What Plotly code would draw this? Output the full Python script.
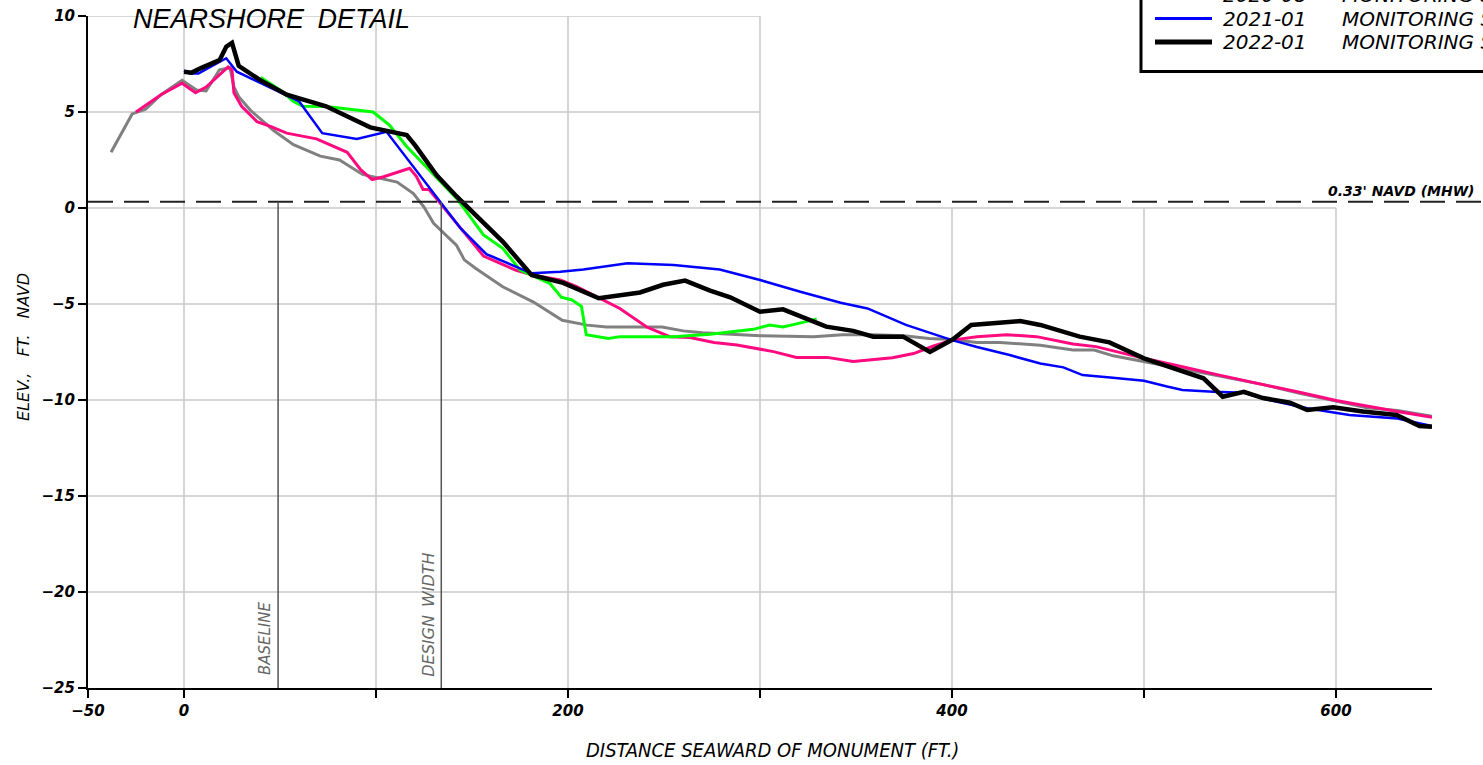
import plotly.graph_objects as go

# ---- survey profiles (distance seaward of monument, ft ; elevation, ft NAVD) ----
gray_x = [-38, -27, -20, -12, -1, 6.5, 11.5, 18.5, 24, 26, 28.5, 34.5, 46.5, 57, 71, 81, 93, 100,
          111, 119.5, 125, 130, 137, 142, 146, 152, 166, 182, 197, 210, 220, 249, 260, 270, 300,
          328, 343, 359, 375, 388, 400, 413, 425, 446, 463, 474, 484, 500, 520, 538, 562, 581,
          600, 616, 632, 650]
gray_y = [2.9, 4.9, 5.15, 5.9, 6.65, 6.15, 6.1, 7.2, 7.3, 6.3, 5.8, 5.1, 4.05, 3.3, 2.7, 2.5, 1.75,
          1.6, 1.35, 0.75, 0.05, -0.8, -1.5, -1.95, -2.7, -3.15, -4.1, -4.9, -5.85, -6.1, -6.2,
          -6.2, -6.4, -6.5, -6.65, -6.7, -6.6, -6.6, -6.65, -6.8, -6.85, -7.0, -7.0, -7.15, -7.4,
          -7.4, -7.7, -8.0, -8.35, -8.72, -9.2, -9.65, -10.05, -10.4, -10.55, -10.85]

pink_x = [-25, -12, -1, 6, 11.5, 23, 25, 26, 30, 38, 45, 53.5, 69, 85, 92, 98, 104, 117.5, 121,
          124.5, 127.5, 144, 156, 173, 182, 196, 204.5, 227, 241, 253, 263.5, 276, 288, 307, 319,
          335, 348.5, 369, 380, 390, 400, 413, 428.5, 444, 463, 475, 500, 520, 538, 581, 600,
          632, 650]
pink_y = [5.0, 5.9, 6.5, 6.0, 6.3, 7.35, 7.2, 6.0, 5.3, 4.5, 4.25, 3.9, 3.6, 2.9, 2.0, 1.48, 1.63,
          2.07, 1.65, 0.97, 0.97, -1.05, -2.5, -3.25, -3.5, -3.75, -4.1, -5.23, -6.2, -6.7, -6.75,
          -7.0, -7.13, -7.48, -7.78, -7.78, -8.0, -7.8, -7.58, -7.2, -6.88, -6.7, -6.6, -6.7,
          -7.08, -7.22, -7.83, -8.27, -8.68, -9.6, -10.03, -10.6, -10.9]

green_x = [40, 50, 57, 62, 74, 98.5, 107, 116, 142, 156, 166, 175, 190.5, 196.5, 202, 207, 209.5,
           221, 227, 255, 274, 296.5, 305, 312, 324, 329.5]
green_y = [6.8, 6.15, 5.55, 5.3, 5.28, 5.0, 4.32, 3.2, 0.5, -1.4, -2.1, -3.23, -3.92, -4.65, -4.79,
           -5.12, -6.6, -6.79, -6.7, -6.7, -6.58, -6.32, -6.09, -6.2, -5.92, -5.78]

blue_x = [0, 3, 7.5, 22, 27.5, 60, 72, 90, 105.5, 144, 157.5, 181, 196, 208, 231, 255, 279, 300,
          321, 342, 356, 376, 400, 413, 430, 446, 458, 468, 481, 500, 512, 520, 536, 552, 564,
          585, 607, 632, 650]
blue_y = [7.15, 7.0, 7.0, 7.8, 7.1, 5.55, 3.9, 3.6, 3.97, -1.05, -2.4, -3.4, -3.32, -3.2, -2.88,
          -2.97, -3.2, -3.75, -4.36, -4.93, -5.23, -6.09, -6.88, -7.24, -7.66, -8.1, -8.3, -8.7,
          -8.82, -9.0, -9.3, -9.48, -9.57, -9.62, -9.97, -10.43, -10.78, -10.96, -11.35]

black_x = [0, 4, 8.5, 18.5, 22, 25, 28.5, 39.5, 53.5, 74, 97, 105.5, 116, 120.5, 131.5, 142, 156,
           166, 181, 197.5, 216, 237.5, 249.5, 261, 274, 284.5, 300, 312, 334.5, 348.5, 359,
           374.5, 388.5, 400.5, 410, 425, 435.5, 446, 466.5, 482, 500, 531, 541, 552, 562, 576,
           585, 598.5, 614, 631.5, 643.5, 650]
black_y = [7.1, 7.05, 7.27, 7.7, 8.4, 8.6, 7.4, 6.67, 5.9, 5.3, 4.2, 4.0, 3.8, 3.25, 1.72, 0.6,
           -0.8, -1.75, -3.49, -3.9, -4.7, -4.4, -4.0, -3.78, -4.3, -4.65, -5.4, -5.28, -6.18,
           -6.4, -6.7, -6.7, -7.5, -6.84, -6.09, -6.0, -5.89, -6.09, -6.7, -7.0, -7.83, -8.87,
           -9.83, -9.57, -9.9, -10.14, -10.52, -10.38, -10.6, -10.78, -11.35, -11.4]

# reference levels / lines
mhw_level = 0.33
mhw_label = "0.33' NAVD (MHW)"
baseline_x = 49
design_width_x = 134

# axis ticks
x_tickvals = [-50, 0, 100, 200, 300, 400, 500, 600]
x_ticktext = ["\u221250", "0", "", "200", "", "400", "", "600"]
y_tickvals = [10, 5, 0, -5, -10, -15, -20, -25]
y_ticktext = ["10", "5", "0", "\u22125", "\u221210", "\u221215", "\u221220", "\u221225"]

# legend rows visible in the corner box
legend_rows = [("2020-08", "#00ff00", 3), ("2021-01", "#0000ff", 3), ("2022-01", "#000000", 5)]

W, H = 1483, 765
ML, MR, MT, MB = 88, 51, 16, 77
PW, PH = W - ML - MR, H - MT - MB


def px(xp):
    return (xp - ML) / PW


def py(yp):
    return (H - MB - yp) / PH


fig = go.Figure()

series = [
    (gray_x, gray_y, "#808080", 3),
    (pink_x, pink_y, "#ff0a7f", 3),
    (green_x, green_y, "#00ff00", 3),
    (blue_x, blue_y, "#0000ff", 2.5),
    (black_x, black_y, "#000000", 4.5),
]
for xs, ys, col, w in series:
    fig.add_trace(go.Scatter(x=xs, y=ys, mode="lines", showlegend=False,
                             line=dict(color=col, width=w), hoverinfo="skip"))

shapes = []
grid_col = "#c8c8c8"
# lower grid block: x -50..600, y -25..0
for gy in [0, -5, -10, -15, -20]:
    shapes.append(dict(type="line", xref="x", yref="y", x0=-50, x1=600, y0=gy, y1=gy,
                       line=dict(color=grid_col, width=1.5), layer="below"))
for gx in [0, 100, 200, 300, 400, 500, 600]:
    shapes.append(dict(type="line", xref="x", yref="y", x0=gx, x1=gx, y0=-25, y1=0,
                       line=dict(color=grid_col, width=1.5), layer="below"))
# upper grid block: x -50..300, y 0..10
for gy in [5, 10]:
    shapes.append(dict(type="line", xref="x", yref="y", x0=-50, x1=300, y0=gy, y1=gy,
                       line=dict(color=grid_col, width=1.5), layer="below"))
for gx in [0, 100, 200, 300]:
    shapes.append(dict(type="line", xref="x", yref="y", x0=gx, x1=gx, y0=0, y1=10,
                       line=dict(color=grid_col, width=1.5), layer="below"))

# MHW dashed line across the full width
shapes.append(dict(type="line", xref="paper", yref="y", x0=0, x1=px(W + 5), y0=mhw_level,
                   y1=mhw_level, line=dict(color="#222222", width=2, dash="25px,11px")))
# baseline and design width markers
for vx in [baseline_x, design_width_x]:
    shapes.append(dict(type="line", xref="x", yref="y", x0=vx, x1=vx, y0=-25, y1=mhw_level,
                       line=dict(color="#555555", width=1.5)))

# legend box (runs off the top/right edge)
shapes.append(dict(type="rect", xref="paper", yref="paper", x0=px(1141), x1=px(W + 40),
                   y0=py(71.5), y1=py(-40), line=dict(color="#000000", width=3),
                   fillcolor="white"))
annotations = []
legend_font = dict(family="DejaVu Sans", size=20, style="italic", color="black")
for i, (lbl, col, w) in enumerate(legend_rows):
    yc = -5 + 23.5 * i
    shapes.append(dict(type="line", xref="paper", yref="paper", x0=px(1155), x1=px(1212),
                       y0=py(yc), y1=py(yc), line=dict(color=col, width=w)))
    annotations.append(dict(xref="paper", yref="paper", x=px(1221), y=py(yc), text=lbl,
                            xanchor="left", yanchor="middle", showarrow=False,
                            font=legend_font))
    annotations.append(dict(xref="paper", yref="paper", x=px(1340), y=py(yc),
                            text="MONITORING SURVEY", xanchor="left", yanchor="middle",
                            showarrow=False, font=legend_font))

annotations += [
    dict(xref="paper", yref="paper", x=px(131), y=py(19), text="NEARSHORE\u2002DETAIL",
         xanchor="left", yanchor="middle", showarrow=False,
         font=dict(family="Liberation Sans", size=27, style="italic", color="black")),
    dict(xref="paper", yref="y", x=px(1477), y=mhw_level, yshift=1, text=mhw_label,
         xanchor="right", yanchor="bottom", showarrow=False,
         font=dict(family="DejaVu Sans", size=14, style="italic", weight="bold",
                   color="black")),
    dict(xref="x", yref="y", x=baseline_x, y=-25, xshift=-2, yshift=11, text="BASELINE",
         textangle=-90, xanchor="right", yanchor="bottom", showarrow=False,
         font=dict(family="DejaVu Sans", size=15, style="italic", color="#666666")),
    dict(xref="x", yref="y", x=design_width_x, y=-25, xshift=-2, yshift=9,
         text="DESIGN\u2002WIDTH", textangle=-90, xanchor="right", yanchor="bottom",
         showarrow=False,
         font=dict(family="DejaVu Sans", size=16, style="italic", color="#666666")),
    dict(xref="paper", yref="paper", x=px(772), y=py(750),
         text="DISTANCE SEAWARD OF MONUMENT (FT.)", xanchor="center", yanchor="middle",
         showarrow=False,
         font=dict(family="DejaVu Sans Condensed", size=20, style="italic", color="black")),
    dict(xref="paper", yref="paper", x=px(23), y=py(347), text="ELEV.,\u2003FT.\u2003NAVD",
         textangle=-90, xanchor="center", yanchor="middle", showarrow=False,
         font=dict(family="DejaVu Sans", size=16, style="italic", color="black")),
]

tick_font = dict(family="DejaVu Sans", size=15, style="italic", weight="bold", color="black")
fig.update_layout(
    width=W, height=H,
    margin=dict(l=ML, r=MR, t=MT, b=MB, autoexpand=False),
    paper_bgcolor="white", plot_bgcolor="white",
    shapes=shapes, annotations=annotations,
    xaxis=dict(range=[-50, 650], tickvals=x_tickvals, ticktext=x_ticktext, automargin=False,
               showgrid=False, zeroline=False, showline=True, linecolor="black",
               linewidth=2, ticks="outside", ticklen=8, tickwidth=2, tickcolor="black",
               tickfont=tick_font),
    yaxis=dict(range=[-25, 10], tickvals=y_tickvals, ticktext=y_ticktext, automargin=False,
               showgrid=False, zeroline=False, showline=True, linecolor="black",
               linewidth=2, ticks="outside", ticklen=8, tickwidth=1.5, tickcolor="black",
               tickfont=tick_font),
)

fig.write_html("out.html")
